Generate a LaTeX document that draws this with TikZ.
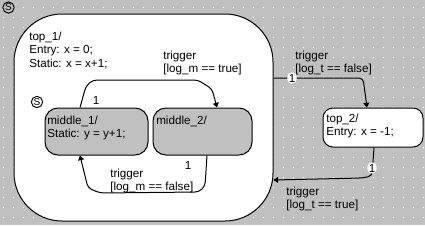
\documentclass[tikz,border=0pt]{standalone}
\usepackage{fontspec}
\setmainfont{Liberation Sans}
\usetikzlibrary{arrows.meta, positioning}
\definecolor{FondoGris}{RGB}{192,192,192}

\begin{document}
\begin{tikzpicture}[x=0.75pt, y=-0.75pt, font=\fontsize{8.75}{9.9}\selectfont,
	estado/.style={rectangle, draw=black, line width=0.75pt, inner sep=0pt},
	texto/.style={inner sep=0pt, align=left, anchor=north west},
	uno/.style={fill=white, inner sep=1pt},
	historia/.style={circle, draw=black, line width=0.7pt, minimum size=8.5pt, inner sep=0pt,
		font=\fontsize{7.5}{7.5}\selectfont},
	flecha/.style={-{Triangle[length=3.5pt, width=4.5pt]}, line width=0.75pt, rounded corners=3pt}]
	% fondo con rejilla
	\useasboundingbox (0,0) rectangle (425,225);
	\fill[FondoGris] (0,0) rectangle (425,225);
	\foreach \i in {0,...,42}
		\foreach \j in {0,...,21}
			\fill[white] (3+10*\i, 7+10*\j) rectangle +(1,1);
	% estados
	\node[estado, fill=white, minimum width=194.25pt, minimum height=155.25pt, rounded corners=36pt] (top1) at (143.5,117.5) {};
	\node[estado, fill=white, minimum width=75pt, minimum height=29.25pt, rounded corners=7.5pt] (top2) at (373,127.5) {};
	\node[estado, fill=FondoGris, minimum width=77.25pt, minimum height=35.25pt, rounded corners=9.75pt] (middle1) at (96.5,131.5) {};
	\node[estado, fill=FondoGris, minimum width=74.25pt, minimum height=35.25pt, rounded corners=9.75pt] (middle2) at (202.5,131.5) {};
	\node[historia] (hist1) at (8.5,7.5) {S};
	\node[historia] (hist2) at (37,102) {S};
	% textos de los estados
	\node[texto] (top1txt) at (29,32) {top\_1/\\Entry: x = 0;\\Static: x = x+1;};
	\node[texto] (top2txt) at (326,114) {top\_2/\\Entry: x = -1;};
	\node[texto] (middle1txt) at (47,116) {middle\_1/\\Static: y = y+1;};
	\node[texto] (middle2txt) at (156,116) {middle\_2/};
	% transiciones
	\draw[flecha] (top1.east |- 0,78) -- (363,78) -- (top2.north -| 367,0)
		node[uno] at (292,78) {1};
	\node[texto] (trig1) at (295,51) {trigger\\{}[log\_t == false]};
	\draw[flecha] (top2.south -| 374,0) -- (372,176) -- (362,178) -- (top1.east |- 0,180)
		node[uno] at (372,168) {1};
	\node[texto] (trig2) at (286,187) {trigger\\{}[log\_t == true]};
	\draw[flecha] (middle1.north -| 80,0) -- (86,86) -- (93,80) -- (198,80) -- (212,89) -- (middle2.north -| 217,0)
		node[uno] at (96,100) {1};
	\node[texto] (trig3) at (163,51) {trigger\\{}[log\_m == true]};
	\draw[flecha] (middle2.south -| 207,0) -- (205,186) -- (199,192) -- (100,193) -- (88,188) -- (middle1.south -| 80,0)
		node[uno] at (188,165) {1};
	\node[texto] (trig4) at (110,169) {trigger\\{}[log\_m == false]};
\end{tikzpicture}
\end{document}
